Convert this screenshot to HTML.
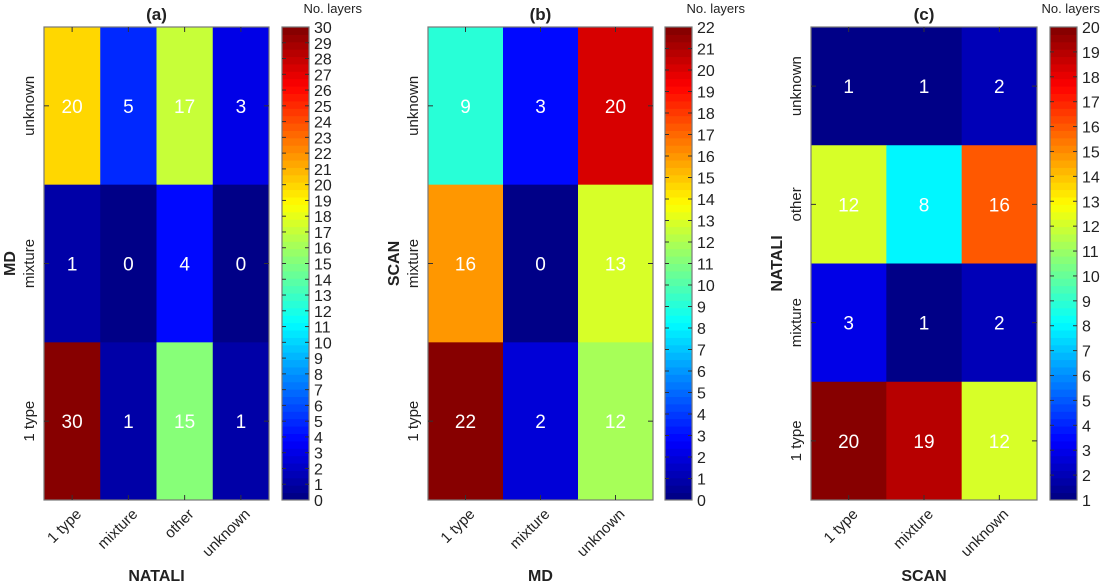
<!DOCTYPE html>
<html><head><meta charset="utf-8"><style>
html,body{margin:0;padding:0;background:#fff;}
svg{display:block;font-family:"Liberation Sans",Arial,sans-serif;}
</style></head><body>
<svg id="fig" width="1101" height="583" viewBox="0 0 1101 583"></svg>
<script>
// Panel (a): rows top->bottom: unknown, mixture, 1 type ; columns NATALI
const aCols = ["1 type","mixture","other","unknown"];
const aRows = ["unknown","mixture","1 type"];
const aVals = [[20,5,17,3],[1,0,4,0],[30,1,15,1]];
const aRange = [0,30];
// Panel (b)
const bCols = ["1 type","mixture","unknown"];
const bRows = ["unknown","mixture","1 type"];
const bVals = [[9,3,20],[16,0,13],[22,2,12]];
const bRange = [0,22];
// Panel (c)
const cCols = ["1 type","mixture","unknown"];
const cRows = ["unknown","other","mixture","1 type"];
const cVals = [[1,1,2],[12,8,16],[3,1,2],[20,19,12]];
const cRange = [1,20];

const NS="http://www.w3.org/2000/svg";
const svg=document.getElementById('fig');
function mk(tag,attrs,parent){const e=document.createElementNS(NS,tag);for(const k in attrs)e.setAttribute(k,attrs[k]);(parent||svg).appendChild(e);return e;}
function cl(x){return Math.max(0,Math.min(1,x));}
function jet(t){
  const n=64;let i=Math.min(n-1,Math.floor(t*n));const u=(i+0.5)/n;
  const r=cl(1.5-Math.abs(4*u-3)),g=cl(1.5-Math.abs(4*u-2)),b=cl(1.5-Math.abs(4*u-1));
  return `rgb(${Math.round(r*255)},${Math.round(g*255)},${Math.round(b*255)})`;
}
function panel(p){
  const {x0,x1,cbx,label,cols,rows,vals,range,xt,yt,key}=p;
  const y0=27,y1=500,cbw=27;
  const g=mk('g',{});
  
  
  const cw=(x1-x0)/cols.length,rh=(y1-y0)/rows.length;
  const sx=c=>x0+c*cw, sy=r=>y0+r*rh;
  const col=v=>jet(Math.min(0.9999,(v-range[0])/(range[1]-range[0])));
  rows.forEach((rn,r)=>cols.forEach((cn,c)=>{
    const v=vals[r][c];
    const rc=mk('rect',{x:sx(c),y:sy(r),width:cw+0.5,height:rh+0.5,fill:col(v)},g);
    
    
    const t=mk('text',{x:sx(c)+cw/2,y:sy(r)+rh/2+7,'text-anchor':'middle','font-size':19,fill:'#fff'},g);
    t.textContent=v;
    
    
  }));
  mk('rect',{x:x0,y:y0,width:x1-x0,height:y1-y0,fill:'none',stroke:'#777','stroke-width':1.2},g);
  cols.forEach((cn,c)=>{
    const cx=sx(c)+cw/2;
    mk('line',{x1:cx,y1:y0,x2:cx,y2:y0+5,stroke:'#333'},g);
    mk('line',{x1:cx,y1:y1,x2:cx,y2:y1-5,stroke:'#333'},g);
    const ax=cx+10, ay=y1+15;
    const t=mk('text',{x:ax,y:ay,'text-anchor':'end','font-size':15,fill:'#222',transform:`rotate(-45 ${ax} ${ay})`},g);
    t.textContent=cn;
    
    
  });
  rows.forEach((rn,r)=>{
    const cy=sy(r)+rh/2;
    mk('line',{x1:x0,y1:cy,x2:x0+5,y2:cy,stroke:'#333'},g);
    mk('line',{x1:x1,y1:cy,x2:x1-5,y2:cy,stroke:'#333'},g);
    const lx=x0-10;
    const t=mk('text',{x:lx,y:cy,'text-anchor':'middle','font-size':15,fill:'#222',transform:`rotate(-90 ${lx} ${cy})`},g);
    t.textContent=rn;
    
    
  });
  const ti=mk('text',{x:(x0+x1)/2,y:20,'text-anchor':'middle','font-size':17,'font-weight':'bold',fill:'#222'},g);
  ti.textContent=label;
  
  
  const xl=mk('text',{x:(x0+x1)/2,y:581,'text-anchor':'middle','font-size':16,'font-weight':'bold',fill:'#222'},g);
  xl.textContent=xt;
  
  
  const yx=x0-29,yy=(y0+y1)/2;
  const yl=mk('text',{x:yx,y:yy,'text-anchor':'middle','font-size':16,'font-weight':'bold',fill:'#222',transform:`rotate(-90 ${yx} ${yy})`},g);
  yl.textContent=yt;
  
  
  // colorbar
  const cb=mk('g',{},g);
  
  
  const n=64,sh=(y1-y0)/n;
  for(let i=0;i<n;i++){
    mk('rect',{x:cbx,y:y1-(i+1)*sh,width:cbw,height:sh+0.5,fill:jet((i+0.5)/n)},cb);
  }
  mk('rect',{x:cbx,y:y0,width:cbw,height:y1-y0,fill:'none',stroke:'#777','stroke-width':1.2},cb);
  const cy=v=>y1-(v-range[0])/(range[1]-range[0])*(y1-y0);
  for(let v=range[0];v<=range[1];v++){
    const yy2=cy(v);
    if(v>range[0]&&v<range[1]){
      mk('line',{x1:cbx,y1:yy2,x2:cbx+4,y2:yy2,stroke:'#333'},cb);
      mk('line',{x1:cbx+cbw,y1:yy2,x2:cbx+cbw-4,y2:yy2,stroke:'#333'},cb);
    }
    const t=mk('text',{x:cbx+cbw+5,y:yy2+6,'font-size':16,fill:'#222'},cb);
    t.textContent=v;
    
    
  }
  const cend=Math.min(cbx+cbw+25+28,1100);
  const ct=mk('text',{x:cend,y:13,'text-anchor':'end','font-size':13,fill:'#222'},cb);
  ct.textContent='No. layers';
  
  
}
panel({key:'a',x0:44,x1:269,cbx:282,label:'(a)',cols:aCols,rows:aRows,vals:aVals,range:aRange,xt:'NATALI',yt:'MD'});
panel({key:'b',x0:428,x1:653,cbx:665,label:'(b)',cols:bCols,rows:bRows,vals:bVals,range:bRange,xt:'MD',yt:'SCAN'});
panel({key:'c',x0:811,x1:1037,cbx:1050,label:'(c)',cols:cCols,rows:cRows,vals:cVals,range:cRange,xt:'SCAN',yt:'NATALI'});
</script>
</body></html>
